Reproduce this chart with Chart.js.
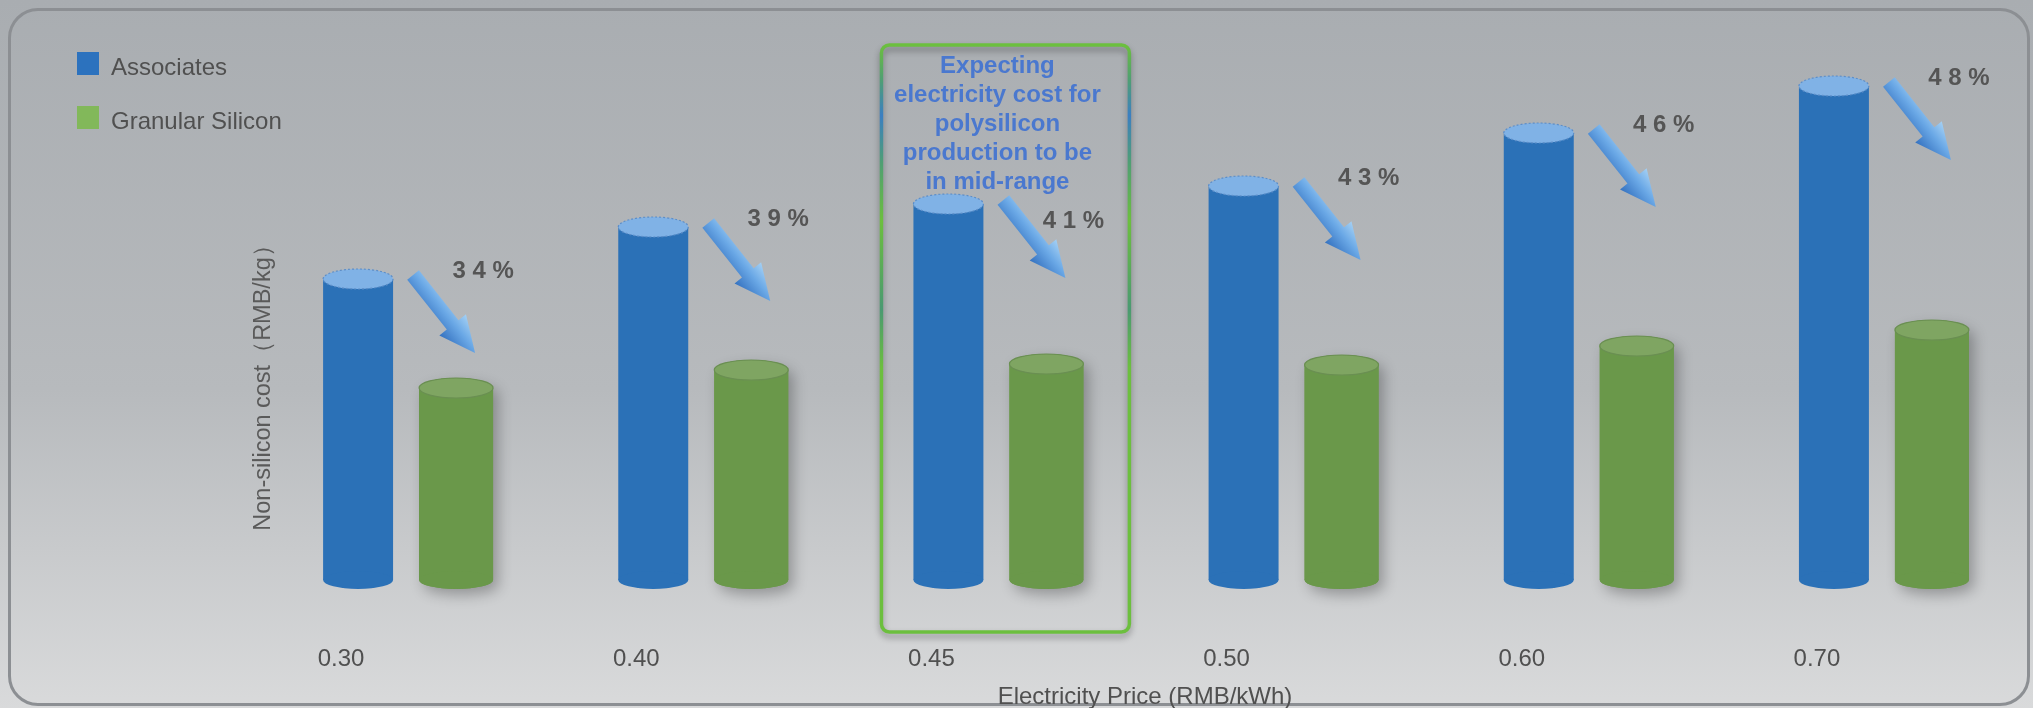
<!DOCTYPE html>
<html>
<head>
<meta charset="utf-8">
<script src="https://cdn.jsdelivr.net/npm/chart.js@4.4.1/dist/chart.umd.min.js"></script>
<style>
  html, body { margin: 0; padding: 0; }
  body {
    width: 2033px; height: 708px; overflow: hidden; position: relative;
    background: linear-gradient(#a9adb1 0%, #b7babd 55%, #d9dadb 100%);
  }
  #panel {
    position: absolute; left: 8px; top: 8px; width: 2016px; height: 692px;
    border: 3px solid #8c8f93; border-radius: 30px;
  }
  canvas { position: absolute; left: 0; top: 0; }
</style>
</head>
<body>
<div id="panel"></div>
<canvas id="chart" width="2033" height="708"></canvas>
<script>
const prices = ['0.30', '0.40', '0.45', '0.50', '0.60', '0.70'];
const associates = [30.1, 35.3, 37.6, 39.4, 44.7, 49.4];
const granular = [19.2, 21.0, 21.6, 21.5, 23.4, 25.0];
const reduction = [34, 39, 41, 43, 46, 48];
const highlightIndex = 2;
const highlightText = ['Expecting', 'electricity cost for', 'polysilicon', 'production to be', 'in mid-range'];

const FONT = "'Liberation Sans', Arial, sans-serif";
const BLUE = '#2b71b7';
const GREEN = '#6a984a';

function cylinderPath(ctx, bar, rTop, rBottom) {
    const hw = bar.width / 2;
    ctx.beginPath();
    ctx.moveTo(bar.x - hw, bar.y);
    ctx.lineTo(bar.x - hw, bar.base);
    ctx.ellipse(bar.x, bar.base, hw, rBottom, 0, Math.PI, 0, true);
    ctx.lineTo(bar.x + hw, bar.y);
    ctx.ellipse(bar.x, bar.y, hw, rTop, 0, 0, Math.PI, true);
    ctx.closePath();
}

function drawArrow(ctx, x0, y0, dx, dy) {
    const len = Math.hypot(dx, dy);
    const ux = dx / len, uy = dy / len;
    const nx = uy, ny = -ux; // zur Seite oben rechts
    const shaft = 7.5, head = 17, headLen = 36;
    const pts = [[0, shaft], [len - headLen, shaft], [len - headLen, head], [len, 0],
                 [len - headLen, -head], [len - headLen, -shaft], [0, -shaft]];
    const grad = ctx.createLinearGradient(x0 - nx * head, y0 - ny * head, x0 + nx * head, y0 + ny * head);
    grad.addColorStop(0, '#3572c0');
    grad.addColorStop(0.55, '#6aa8e6');
    grad.addColorStop(1, '#a4d0f4');
    ctx.save();
    ctx.fillStyle = grad;
    ctx.beginPath();
    pts.forEach(([u, v], i) => {
        const px = x0 + u * ux + v * nx;
        const py = y0 + u * uy + v * ny;
        if (i === 0) ctx.moveTo(px, py); else ctx.lineTo(px, py);
    });
    ctx.closePath();
    ctx.fill();
    ctx.restore();
}

const decor = {
    id: 'decor',
    beforeDatasetsDraw(chart) {
        const ctx = chart.ctx;
        const xs = chart.scales.x;
        const area = chart.chartArea;

        // Markierungsbox um 0.45
        const cx = xs.getPixelForValue(highlightIndex) + 8;
        const w = (area.right - area.left) / prices.length * 0.84;
        const left = cx - w / 2, top = area.top + 15, bottom = area.bottom + 52;
        const g = ctx.createLinearGradient(0, top, 0, bottom);
        g.addColorStop(0, '#6cbf3e');
        g.addColorStop(0.06, '#4f9f74');
        g.addColorStop(0.12, '#3b7fc2');
        g.addColorStop(0.2, '#4f9f74');
        g.addColorStop(0.3, '#6cbf3e');
        g.addColorStop(0.45, '#4a9a72');
        g.addColorStop(0.55, '#6cbf3e');
        g.addColorStop(1, '#6cbf3e');
        ctx.save();
        ctx.shadowColor = 'rgba(0,0,0,0.35)';
        ctx.shadowBlur = 6;
        ctx.shadowOffsetY = 4;
        ctx.lineWidth = 3.5;
        ctx.strokeStyle = g;
        ctx.beginPath();
        ctx.roundRect(left, top, w, bottom - top, 8);
        ctx.stroke();
        ctx.restore();

        ctx.save();
        ctx.fillStyle = '#4a78cf';
        ctx.font = 'bold 24px ' + FONT;
        ctx.textAlign = 'center';
        ctx.textBaseline = 'alphabetic';
        highlightText.forEach((line, i) => ctx.fillText(line, cx - 8, area.top + 43 + i * 29));
        ctx.restore();

        // Schatten der grünen Zylinder
        chart.getDatasetMeta(1).data.forEach(bar => {
            ctx.save();
            ctx.shadowColor = 'rgba(0,0,0,0.28)';
            ctx.shadowBlur = 14;
            ctx.shadowOffsetX = 5;
            ctx.shadowOffsetY = 6;
            ctx.fillStyle = GREEN;
            cylinderPath(ctx, bar, 10, 9);
            ctx.fill();
            ctx.restore();
        });
    },
    afterDatasetsDraw(chart) {
        const ctx = chart.ctx;
        const area = chart.chartArea;

        // Zylinder: Boden und Deckel
        const tops = [['#80b2e6', '#5d8ec8', true], ['#7fa562', '#6a8f52', false]];
        const bodies = [BLUE, GREEN];
        [0, 1].forEach(di => {
            chart.getDatasetMeta(di).data.forEach(bar => {
                const hw = bar.width / 2;
                ctx.save();
                ctx.fillStyle = bodies[di];
                ctx.beginPath();
                ctx.ellipse(bar.x, bar.base, hw, 9, 0, 0, Math.PI * 2);
                ctx.fill();
                ctx.fillStyle = tops[di][0];
                ctx.beginPath();
                ctx.ellipse(bar.x, bar.y, hw, 10, 0, 0, Math.PI * 2);
                ctx.fill();
                ctx.strokeStyle = tops[di][1];
                ctx.lineWidth = 1.2;
                if (tops[di][2]) ctx.setLineDash([2, 2]);
                ctx.stroke();
                ctx.restore();
            });
        });

        // Pfeile und Prozentwerte
        const textBottom = area.top + 43 + (highlightText.length - 1) * 29;
        const blue = chart.getDatasetMeta(0).data;
        blue.forEach((bar, i) => {
            const tx = bar.x + bar.width / 2 + 20;
            const ty = bar.y - 4;
            drawArrow(ctx, tx, ty, 62, 78);
            // in der Box nicht mit dem Text kollidieren
            let ly = ty - 4;
            if (i === highlightIndex) ly = Math.max(ly, textBottom + 32);
            ctx.save();
            ctx.fillStyle = '#555555';
            ctx.font = 'bold 24px ' + FONT;
            ctx.textAlign = 'center';
            ctx.textBaseline = 'middle';
            ctx.fillText(String(reduction[i]).split('').join(' ') + ' %', tx + 70, ly);
            ctx.restore();
        });

        // Legende
        ctx.save();
        ctx.font = '24px ' + FONT;
        ctx.textBaseline = 'alphabetic';
        const legendColors = ['#2c72be', '#82b85a'];
        chart.data.datasets.forEach((ds, i) => {
            const y = 52 + i * 54;
            ctx.fillStyle = legendColors[i];
            ctx.fillRect(77, y, 22, 23);
            ctx.fillStyle = '#505050';
            ctx.fillText(ds.label, 111, y + 23);
        });
        ctx.restore();

        // y-Achsentitel
        ctx.save();
        ctx.translate(270, 382);
        ctx.rotate(-Math.PI / 2);
        ctx.font = '23.5px ' + FONT;
        ctx.fillStyle = '#5a5a5a';
        ctx.textAlign = 'center';
        ctx.textBaseline = 'alphabetic';
        ctx.fillText('Non-silicon cost（RMB/kg）', 0, 0);
        ctx.restore();
    }
};

new Chart(document.getElementById('chart'), {
    type: 'bar',
    data: {
        labels: prices,
        datasets: [
            { label: 'Associates', data: associates, backgroundColor: BLUE, barPercentage: 0.714 },
            { label: 'Granular Silicon', data: granular, backgroundColor: GREEN, barPercentage: 0.755 }
        ]
    },
    options: {
        responsive: false,
        animation: false,
        events: [],
        layout: { padding: { left: 259.5, right: 2.5, top: 30, bottom: 0 } },
        datasets: { bar: { categoryPercentage: 0.664, borderWidth: 0 } },
        plugins: { legend: { display: false }, tooltip: { enabled: false } },
        scales: {
            x: {
                grid: { display: false, drawTicks: false },
                border: { display: false },
                afterFit(scale) { scale.height = 128; },
                ticks: {
                    color: '#505050',
                    font: { family: FONT, size: 24 },
                    padding: 64.6,
                    labelOffset: -66,
                    maxRotation: 0,
                    autoSkip: false
                },
                title: {
                    display: true,
                    text: 'Electricity Price (RMB/kWh)',
                    color: '#505050',
                    font: { family: FONT, size: 24, lineHeight: '20px' },
                    padding: { top: 14.3, bottom: 0.3 }
                }
            },
            y: { display: false, min: 0, max: 55 }
        }
    },
    plugins: [decor]
});
</script>
</body>
</html>
